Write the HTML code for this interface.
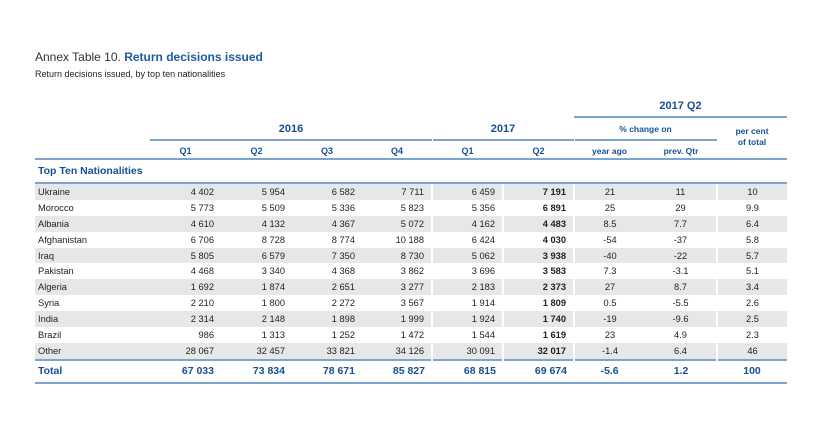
<!DOCTYPE html>
<html><head><style>
body{margin:0;width:831px;height:429px;background:#fff;font-family:"Liberation Sans",sans-serif;position:relative;overflow:hidden}
.t1{position:absolute;left:35px;top:50px;font-size:12px;color:#333}
.t1 b{color:#1d5aa3}
.t2{position:absolute;left:35px;top:69px;font-size:9px;color:#222}
.h{position:absolute;color:#174f94;font-weight:bold;font-size:10px;text-align:center}
.ln{position:absolute;height:2px;background:#7da3cf}
table{position:absolute;left:35px;top:184px;border-collapse:collapse;table-layout:fixed;font-size:9.3px;color:#222}
td{height:15.9px;padding:0 7px 0 0;text-align:right;white-space:nowrap}
td:first-child{text-align:left;padding-left:3px}
tr.g td{background:#e6e7e8}
td.s{border-left:2px solid #fff}
td.b{font-weight:bold}
td.c{text-align:center;padding:0}
tr.tot td{color:#174f94;font-weight:bold;font-size:10.5px;height:21px;background:#fff;border-top:2px solid #7da3cf;border-bottom:2px solid #7da3cf}
</style></head><body>
<div class="t1">Annex Table 10. <b>Return decisions issued</b></div>
<div class="t2">Return decisions issued, by top ten nationalities</div>
<div class="h" style="left:574px;width:213px;top:100px;font-size:11px">2017 Q2</div>
<div class="ln" style="left:574px;width:213px;top:116px"></div>
<div class="h" style="left:150px;width:282px;top:123px;font-size:11px">2016</div>
<div class="h" style="left:432px;width:142px;top:123px;font-size:11px">2017</div>
<div class="h" style="left:574px;width:143px;top:124px;font-size:8.5px">% change on</div>
<div class="h" style="left:717px;width:70px;top:126px;font-size:8.5px;line-height:11px">per cent<br>of total</div>
<div class="ln" style="left:150px;width:282px;top:139px"></div>
<div class="ln" style="left:433px;width:141px;top:139px"></div>
<div class="ln" style="left:575px;width:142px;top:139px"></div>
<div class="h" style="left:150px;width:71px;top:146px;font-size:9px">Q1</div>
<div class="h" style="left:221px;width:71px;top:146px;font-size:9px">Q2</div>
<div class="h" style="left:292px;width:70px;top:146px;font-size:9px">Q3</div>
<div class="h" style="left:362px;width:70px;top:146px;font-size:9px">Q4</div>
<div class="h" style="left:432px;width:71px;top:146px;font-size:9px">Q1</div>
<div class="h" style="left:503px;width:71px;top:146px;font-size:9px">Q2</div>
<div class="h" style="left:574px;width:71px;top:146px;font-size:8.5px">year ago</div>
<div class="h" style="left:645px;width:72px;top:146px;font-size:8.5px">prev. Qtr</div>
<div class="ln" style="left:35px;width:752px;top:158px"></div>
<div class="h" style="left:38px;top:165px;font-size:10.5px;text-align:left">Top Ten Nationalities</div>
<div class="ln" style="left:35px;width:752px;top:182px"></div>
<table>
<colgroup><col style="width:115px"><col style="width:71px"><col style="width:71px"><col style="width:70px"><col style="width:70px"><col style="width:71px"><col style="width:71px"><col style="width:71px"><col style="width:72px"><col style="width:70px"></colgroup>
<tr class="g"><td>Ukraine</td><td>4 402</td><td>5 954</td><td>6 582</td><td>7 711</td><td class="s">6 459</td><td class="s b">7 191</td><td class="s c">21</td><td class="c">11</td><td class="s c">10</td></tr>
<tr><td>Morocco</td><td>5 773</td><td>5 509</td><td>5 336</td><td>5 823</td><td class="s">5 356</td><td class="s b">6 891</td><td class="s c">25</td><td class="c">29</td><td class="s c">9.9</td></tr>
<tr class="g"><td>Albania</td><td>4 610</td><td>4 132</td><td>4 367</td><td>5 072</td><td class="s">4 162</td><td class="s b">4 483</td><td class="s c">8.5</td><td class="c">7.7</td><td class="s c">6.4</td></tr>
<tr><td>Afghanistan</td><td>6 706</td><td>8 728</td><td>8 774</td><td>10 188</td><td class="s">6 424</td><td class="s b">4 030</td><td class="s c">-54</td><td class="c">-37</td><td class="s c">5.8</td></tr>
<tr class="g"><td>Iraq</td><td>5 805</td><td>6 579</td><td>7 350</td><td>8 730</td><td class="s">5 062</td><td class="s b">3 938</td><td class="s c">-40</td><td class="c">-22</td><td class="s c">5.7</td></tr>
<tr><td>Pakistan</td><td>4 468</td><td>3 340</td><td>4 368</td><td>3 862</td><td class="s">3 696</td><td class="s b">3 583</td><td class="s c">7.3</td><td class="c">-3.1</td><td class="s c">5.1</td></tr>
<tr class="g"><td>Algeria</td><td>1 692</td><td>1 874</td><td>2 651</td><td>3 277</td><td class="s">2 183</td><td class="s b">2 373</td><td class="s c">27</td><td class="c">8.7</td><td class="s c">3.4</td></tr>
<tr><td>Syria</td><td>2 210</td><td>1 800</td><td>2 272</td><td>3 567</td><td class="s">1 914</td><td class="s b">1 809</td><td class="s c">0.5</td><td class="c">-5.5</td><td class="s c">2.6</td></tr>
<tr class="g"><td>India</td><td>2 314</td><td>2 148</td><td>1 898</td><td>1 999</td><td class="s">1 924</td><td class="s b">1 740</td><td class="s c">-19</td><td class="c">-9.6</td><td class="s c">2.5</td></tr>
<tr><td>Brazil</td><td>986</td><td>1 313</td><td>1 252</td><td>1 472</td><td class="s">1 544</td><td class="s b">1 619</td><td class="s c">23</td><td class="c">4.9</td><td class="s c">2.3</td></tr>
<tr class="g"><td>Other</td><td>28 067</td><td>32 457</td><td>33 821</td><td>34 126</td><td class="s">30 091</td><td class="s b">32 017</td><td class="s c">-1.4</td><td class="c">6.4</td><td class="s c">46</td></tr>
<tr class="tot"><td>Total</td><td>67 033</td><td>73 834</td><td>78 671</td><td>85 827</td><td>68 815</td><td>69 674</td><td class="c">-5.6</td><td class="c">1.2</td><td class="c">100</td></tr>
</table>
</body></html>
